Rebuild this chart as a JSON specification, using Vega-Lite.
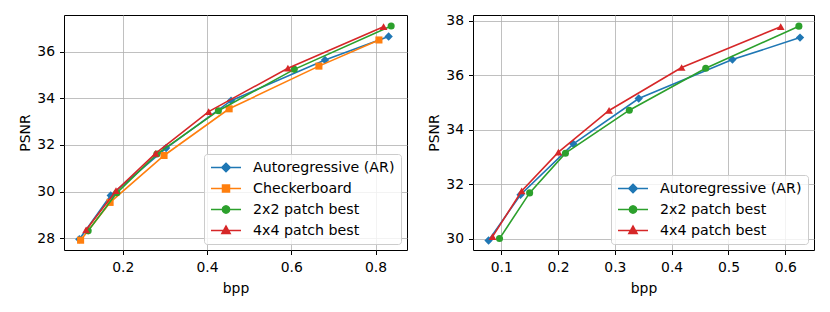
{
  "$schema": "https://vega.github.io/schema/vega-lite/v6.json",
  "padding": {"left": 18, "top": 13, "right": 5, "bottom": 5},
  "spacing": 19,
  "datasets": {
    "left": [
      {"series": "Autoregressive (AR)", "bpp": 0.097, "psnr": 27.96},
      {"series": "Autoregressive (AR)", "bpp": 0.1715, "psnr": 29.84},
      {"series": "Autoregressive (AR)", "bpp": 0.303, "psnr": 31.87},
      {"series": "Autoregressive (AR)", "bpp": 0.457, "psnr": 33.9},
      {"series": "Autoregressive (AR)", "bpp": 0.68, "psnr": 35.64},
      {"series": "Autoregressive (AR)", "bpp": 0.831, "psnr": 36.65},
      {"series": "Checkerboard", "bpp": 0.1, "psnr": 27.92},
      {"series": "Checkerboard", "bpp": 0.17, "psnr": 29.54},
      {"series": "Checkerboard", "bpp": 0.298, "psnr": 31.55},
      {"series": "Checkerboard", "bpp": 0.4525, "psnr": 33.55},
      {"series": "Checkerboard", "bpp": 0.6655, "psnr": 35.38},
      {"series": "Checkerboard", "bpp": 0.808, "psnr": 36.5},
      {"series": "2x2 patch best", "bpp": 0.118, "psnr": 28.32},
      {"series": "2x2 patch best", "bpp": 0.186, "psnr": 29.95},
      {"series": "2x2 patch best", "bpp": 0.281, "psnr": 31.61},
      {"series": "2x2 patch best", "bpp": 0.427, "psnr": 33.47},
      {"series": "2x2 patch best", "bpp": 0.607, "psnr": 35.24},
      {"series": "2x2 patch best", "bpp": 0.837, "psnr": 37.1},
      {"series": "4x4 patch best", "bpp": 0.113, "psnr": 28.36},
      {"series": "4x4 patch best", "bpp": 0.184, "psnr": 30.04},
      {"series": "4x4 patch best", "bpp": 0.278, "psnr": 31.64},
      {"series": "4x4 patch best", "bpp": 0.404, "psnr": 33.43},
      {"series": "4x4 patch best", "bpp": 0.592, "psnr": 35.29},
      {"series": "4x4 patch best", "bpp": 0.819, "psnr": 37.07}
    ],
    "right": [
      {"series": "Autoregressive (AR)", "bpp": 0.0777, "psnr": 29.93},
      {"series": "Autoregressive (AR)", "bpp": 0.134, "psnr": 31.61},
      {"series": "Autoregressive (AR)", "bpp": 0.227, "psnr": 33.48},
      {"series": "Autoregressive (AR)", "bpp": 0.342, "psnr": 35.15},
      {"series": "Autoregressive (AR)", "bpp": 0.507, "psnr": 36.58},
      {"series": "Autoregressive (AR)", "bpp": 0.626, "psnr": 37.39},
      {"series": "2x2 patch best", "bpp": 0.097, "psnr": 30.0},
      {"series": "2x2 patch best", "bpp": 0.15, "psnr": 31.68},
      {"series": "2x2 patch best", "bpp": 0.213, "psnr": 33.14},
      {"series": "2x2 patch best", "bpp": 0.3255, "psnr": 34.72},
      {"series": "2x2 patch best", "bpp": 0.46, "psnr": 36.26},
      {"series": "2x2 patch best", "bpp": 0.624, "psnr": 37.81},
      {"series": "4x4 patch best", "bpp": 0.0847, "psnr": 30.07},
      {"series": "4x4 patch best", "bpp": 0.136, "psnr": 31.75},
      {"series": "4x4 patch best", "bpp": 0.2007, "psnr": 33.18},
      {"series": "4x4 patch best", "bpp": 0.2898, "psnr": 34.71},
      {"series": "4x4 patch best", "bpp": 0.4176, "psnr": 36.29},
      {"series": "4x4 patch best", "bpp": 0.592, "psnr": 37.79}
    ]
  },
  "resolve": {
    "scale": {"fill": "independent", "stroke": "independent", "shape": "independent"},
    "legend": {"fill": "independent", "stroke": "independent", "shape": "independent"}
  },
  "hconcat": [
    {
      "width": 343,
      "height": 235,
      "data": {"name": "left"},
      "encoding": {
        "x": {"field": "bpp", "type": "quantitative", "title": "bpp",
              "scale": {"domain": [0.0606, 0.8746], "nice": false, "zero": false},
              "axis": {"values": [0.2, 0.4, 0.6, 0.8], "format": ".1f", "labelPadding": 6, "titlePadding": 7}},
        "y": {"field": "psnr", "type": "quantitative", "title": "PSNR",
              "scale": {"domain": [27.5, 37.57], "nice": false, "zero": false},
              "axis": {"values": [28, 30, 32, 34, 36], "format": "d"}}
      },
      "layer": [
        {
          "transform": [{"filter": "false"}],
          "mark": {"type": "point", "filled": true, "opacity": 1, "strokeWidth": 1.6},
          "encoding": {
            "fill": {"field": "series", "type": "nominal",
                     "scale": {"domain": ["Autoregressive (AR)", "Checkerboard", "2x2 patch best", "4x4 patch best"],
                               "range": ["#1f77b4", "#ff7f0e", "#2ca02c", "#d62728"]}},
            "stroke": {"field": "series", "type": "nominal",
                       "scale": {"domain": ["Autoregressive (AR)", "Checkerboard", "2x2 patch best", "4x4 patch best"],
                                 "range": ["#1f77b4", "#ff7f0e", "#2ca02c", "#d62728"]}},
            "shape": {"field": "series", "type": "nominal",
                      "scale": {"domain": ["Autoregressive (AR)", "Checkerboard", "2x2 patch best", "4x4 patch best"],
                                "range": ["M-1,0H1M0,-0.28L0.28,0L0,0.28L-0.28,0Z", "M-1,0H1M-0.23,-0.23H0.23V0.23H-0.23Z", "M-1,0H1M0.24,0L0.208,0.12L0.12,0.208L0,0.24L-0.12,0.208L-0.208,0.12L-0.24,0L-0.208,-0.12L-0.12,-0.208L0,-0.24L0.12,-0.208L0.208,-0.12Z", "M-1,0H1M0,-0.29L0.27,0.19L-0.27,0.19Z"]}}
          }
        },
        {"transform": [{"filter": "datum.series === 'Autoregressive (AR)'"}], "mark": {"type": "line", "color": "#1f77b4", "strokeWidth": 1.6}, "encoding": {}},
        {"transform": [{"filter": "datum.series === 'Autoregressive (AR)'"}], "mark": {"type": "point", "filled": true, "opacity": 1, "color": "#1f77b4", "shape": "M0,-1L1,0L0,1L-1,0Z", "size": 70}, "encoding": {}},
        {"transform": [{"filter": "datum.series === 'Checkerboard'"}], "mark": {"type": "line", "color": "#ff7f0e", "strokeWidth": 1.6}, "encoding": {}},
        {"transform": [{"filter": "datum.series === 'Checkerboard'"}], "mark": {"type": "point", "filled": true, "opacity": 1, "color": "#ff7f0e", "shape": "square", "size": 50}, "encoding": {}},
        {"transform": [{"filter": "datum.series === '2x2 patch best'"}], "mark": {"type": "line", "color": "#2ca02c", "strokeWidth": 1.6}, "encoding": {}},
        {"transform": [{"filter": "datum.series === '2x2 patch best'"}], "mark": {"type": "point", "filled": true, "opacity": 1, "color": "#2ca02c", "shape": "circle", "size": 50}, "encoding": {}},
        {"transform": [{"filter": "datum.series === '4x4 patch best'"}], "mark": {"type": "line", "color": "#d62728", "strokeWidth": 1.6}, "encoding": {}},
        {"transform": [{"filter": "datum.series === '4x4 patch best'"}], "mark": {"type": "point", "filled": true, "opacity": 1, "color": "#d62728", "shape": "triangle-up", "size": 60}, "encoding": {}}
      ]
    },
    {
      "width": 341,
      "height": 235,
      "data": {"name": "right"},
      "encoding": {
        "x": {"field": "bpp", "type": "quantitative", "title": "bpp",
              "scale": {"domain": [0.0503, 0.6506], "nice": false, "zero": false},
              "axis": {"values": [0.1, 0.2, 0.3, 0.4, 0.5, 0.6], "format": ".1f", "labelPadding": 6, "titlePadding": 7}},
        "y": {"field": "psnr", "type": "quantitative", "title": "PSNR",
              "scale": {"domain": [29.58, 38.22], "nice": false, "zero": false},
              "axis": {"values": [30, 32, 34, 36, 38], "format": "d"}}
      },
      "layer": [
        {
          "transform": [{"filter": "false"}],
          "mark": {"type": "point", "filled": true, "opacity": 1, "strokeWidth": 1.6},
          "encoding": {
            "fill": {"field": "series", "type": "nominal",
                     "scale": {"domain": ["Autoregressive (AR)", "2x2 patch best", "4x4 patch best"],
                               "range": ["#1f77b4", "#2ca02c", "#d62728"]}},
            "stroke": {"field": "series", "type": "nominal",
                       "scale": {"domain": ["Autoregressive (AR)", "2x2 patch best", "4x4 patch best"],
                                 "range": ["#1f77b4", "#2ca02c", "#d62728"]}},
            "shape": {"field": "series", "type": "nominal",
                      "scale": {"domain": ["Autoregressive (AR)", "2x2 patch best", "4x4 patch best"],
                                "range": ["M-1,0H1M0,-0.28L0.28,0L0,0.28L-0.28,0Z", "M-1,0H1M0.24,0L0.208,0.12L0.12,0.208L0,0.24L-0.12,0.208L-0.208,0.12L-0.24,0L-0.208,-0.12L-0.12,-0.208L0,-0.24L0.12,-0.208L0.208,-0.12Z", "M-1,0H1M0,-0.29L0.27,0.19L-0.27,0.19Z"]}}
          }
        },
        {"transform": [{"filter": "datum.series === 'Autoregressive (AR)'"}], "mark": {"type": "line", "color": "#1f77b4", "strokeWidth": 1.6}, "encoding": {}},
        {"transform": [{"filter": "datum.series === 'Autoregressive (AR)'"}], "mark": {"type": "point", "filled": true, "opacity": 1, "color": "#1f77b4", "shape": "M0,-1L1,0L0,1L-1,0Z", "size": 70}, "encoding": {}},
        {"transform": [{"filter": "datum.series === '2x2 patch best'"}], "mark": {"type": "line", "color": "#2ca02c", "strokeWidth": 1.6}, "encoding": {}},
        {"transform": [{"filter": "datum.series === '2x2 patch best'"}], "mark": {"type": "point", "filled": true, "opacity": 1, "color": "#2ca02c", "shape": "circle", "size": 50}, "encoding": {}},
        {"transform": [{"filter": "datum.series === '4x4 patch best'"}], "mark": {"type": "line", "color": "#d62728", "strokeWidth": 1.6}, "encoding": {}},
        {"transform": [{"filter": "datum.series === '4x4 patch best'"}], "mark": {"type": "point", "filled": true, "opacity": 1, "color": "#d62728", "shape": "triangle-up", "size": 60}, "encoding": {}}
      ]
    }
  ],
  "config": {
    "font": "DejaVu Sans",
    "view": {"stroke": "black", "strokeWidth": 1},
    "axis": {
      "domain": false, "grid": true, "gridColor": "#b0b0b0", "gridWidth": 0.8,
      "tickColor": "black", "tickSize": 4.5, "tickWidth": 1,
      "labelFontSize": 13.9, "labelColor": "black", "labelPadding": 5, "labelFont": "DejaVu Sans",
      "titleFontSize": 13.9, "titleFontWeight": "normal", "titleColor": "black", "titleFont": "DejaVu Sans", "titlePadding": 4
    },
    "legend": {
      "orient": "bottom-right", "offset": 6, "title": null,
      "labelFontSize": 14.2, "labelColor": "black", "labelFont": "DejaVu Sans", "labelOffset": 11,
      "symbolSize": 900, "symbolStrokeWidth": 1.6, "symbolOpacity": 1, "clipHeight": 15, "rowPadding": 6, "padding": 6,
      "fillColor": "rgba(255,255,255,0.8)", "strokeColor": "#cccccc", "cornerRadius": 3
    }
  }
}
